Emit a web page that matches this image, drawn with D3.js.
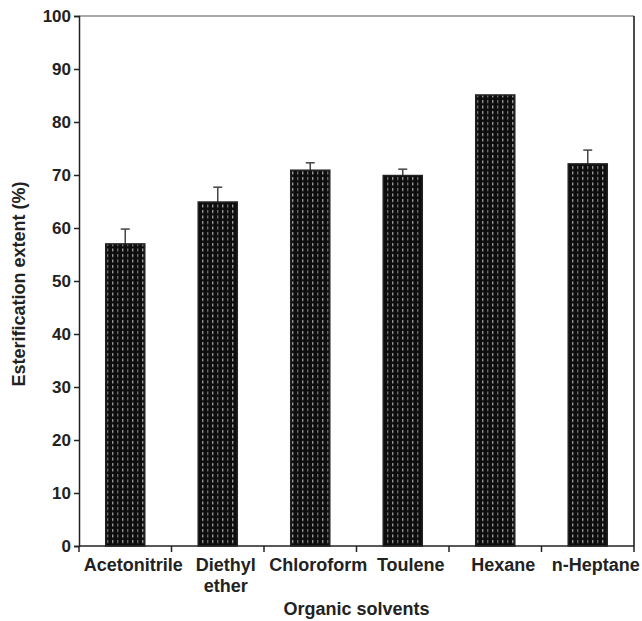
<!DOCTYPE html>
<html>
<head>
<meta charset="utf-8">
<script src="https://cdn.jsdelivr.net/npm/d3@7"></script>
<style>
    body { margin: 0; background: #fff; }
    text { font-family: "Liberation Sans", Arial, sans-serif; font-weight: bold; fill: #222; }
</style>
</head>
<body>
<div id="chart"></div>
<script>
// values
var solvents = ["Acetonitrile", "Diethyl ether", "Chloroform", "Toulene", "Hexane", "n-Heptane"];
var solventLines = [["Acetonitrile"], ["Diethyl", "ether"], ["Chloroform"], ["Toulene"], ["Hexane"], ["n-Heptane"]];
var extent = [57, 64.9, 70.9, 69.9, 85.1, 72.1];
var errors = [2.8, 2.8, 1.4, 1.2, 0, 2.6];
var yTicks = [0, 10, 20, 30, 40, 50, 60, 70, 80, 90, 100];

var width = 642, height = 621;
var plotLeft = 79, plotRight = 634, plotTop = 16, plotBottom = 546;

var svg = d3.select("#chart").append("svg")
    .attr("width", width)
    .attr("height", height);

// dotted bar fill
var pat = svg.append("defs").append("pattern")
    .attr("id", "dots")
    .attr("patternUnits", "userSpaceOnUse")
    .attr("width", 10)
    .attr("height", 5.5);
pat.append("rect").attr("width", 10).attr("height", 5.5).attr("fill", "#0d0d0d");
pat.append("rect").attr("x", 2).attr("y", 1).attr("width", 1.4).attr("height", 3).attr("fill", "#9a9a9a");
pat.append("rect").attr("x", 7).attr("y", 1).attr("width", 1.4).attr("height", 3).attr("fill", "#6e6e6e");

var x = d3.scaleBand()
    .domain(solvents)
    .range([plotLeft, plotRight])
    .paddingInner(0.578)
    .paddingOuter(0.289);

var y = d3.scaleLinear()
    .domain([0, 100])
    .range([plotBottom, plotTop]);

var data = solvents.map(function (d, i) {
    return {name: d, lines: solventLines[i], value: extent[i], err: errors[i]};
});

// frame: top and right
svg.append("line")
    .attr("x1", plotLeft).attr("x2", plotRight)
    .attr("y1", y(100)).attr("y2", y(100))
    .attr("stroke", "#555").attr("stroke-width", 1.2);
svg.append("line")
    .attr("x1", plotRight).attr("x2", plotRight)
    .attr("y1", y(100)).attr("y2", y(0))
    .attr("stroke", "#111").attr("stroke-width", 1.5);

// error bars (drawn first, the bar covers the lower half)
var eb = svg.append("g").selectAll("g")
    .data(data.filter(function (d) { return d.err > 0; }))
    .enter().append("g");
eb.append("line")
    .attr("x1", function (d) { return x(d.name) + x.bandwidth() / 2; })
    .attr("x2", function (d) { return x(d.name) + x.bandwidth() / 2; })
    .attr("y1", function (d) { return y(d.value); })
    .attr("y2", function (d) { return y(d.value + d.err); })
    .attr("stroke", "#444").attr("stroke-width", 1.5);
eb.append("line")
    .attr("x1", function (d) { return x(d.name) + x.bandwidth() / 2 - 4.5; })
    .attr("x2", function (d) { return x(d.name) + x.bandwidth() / 2 + 4.5; })
    .attr("y1", function (d) { return y(d.value + d.err); })
    .attr("y2", function (d) { return y(d.value + d.err); })
    .attr("stroke", "#444").attr("stroke-width", 1.5);

// bars
svg.append("g").selectAll("rect")
    .data(data)
    .enter().append("rect")
    .attr("x", function (d) { return x(d.name); })
    .attr("y", function (d) { return y(d.value); })
    .attr("width", x.bandwidth())
    .attr("height", function (d) { return y(0) - y(d.value); })
    .attr("fill", "url(#dots)")
    .attr("stroke", "#222")
    .attr("stroke-width", 1.5);

// y axis
var yAxis = svg.append("g")
    .attr("transform", "translate(" + plotLeft + ",0)")
    .call(d3.axisLeft(y).tickValues(yTicks).tickSize(5).tickPadding(3));
yAxis.select(".domain").attr("stroke", "#222").attr("stroke-width", 1.5);
yAxis.selectAll(".tick line").attr("stroke", "#222").attr("stroke-width", 1.5);
yAxis.selectAll("text")
    .style("font-size", "17px")
    .style("font-family", "'Liberation Sans', Arial, sans-serif")
    .style("font-weight", "bold")
    .attr("fill", "#222");

// x axis: line plus ticks at band boundaries
svg.append("line")
    .attr("x1", plotLeft).attr("x2", plotRight)
    .attr("y1", y(0)).attr("y2", y(0))
    .attr("stroke", "#222").attr("stroke-width", 1.5);
var bounds = solvents.map(function (d) {
    return x(d) + x.bandwidth() / 2 - x.step() / 2;
});
bounds.push(x(solvents[solvents.length - 1]) + x.bandwidth() / 2 + x.step() / 2);
svg.append("g").selectAll("line")
    .data(bounds)
    .enter().append("line")
    .attr("x1", function (d) { return d; })
    .attr("x2", function (d) { return d; })
    .attr("y1", y(0))
    .attr("y2", y(0) + 6)
    .attr("stroke", "#222").attr("stroke-width", 1.5);

// category labels
var cat = svg.append("g").selectAll("text")
    .data(data)
    .enter().append("text")
    .attr("text-anchor", "middle")
    .attr("font-size", "18px")
    .attr("x", function (d) { return x(d.name) + x.bandwidth() / 2 + 8; })
    .attr("y", y(0) + 25);
cat.selectAll("tspan")
    .data(function (d) { return d.lines; })
    .enter().append("tspan")
    .attr("x", function () { return d3.select(this.parentNode).attr("x"); })
    .attr("dy", function (d, i) { return i === 0 ? 0 : 21; })
    .text(function (d) { return d; });

// axis titles
svg.append("text")
    .attr("text-anchor", "middle")
    .attr("font-size", "18px")
    .attr("x", (plotLeft + plotRight) / 2)
    .attr("y", 615)
    .text("Organic solvents");

svg.append("text")
    .attr("text-anchor", "middle")
    .attr("font-size", "18px")
    .attr("transform", "translate(25," + ((plotTop + plotBottom) / 2 + 3) + ") rotate(-90)")
    .text("Esterification extent (%)");
</script>
</body>
</html>
